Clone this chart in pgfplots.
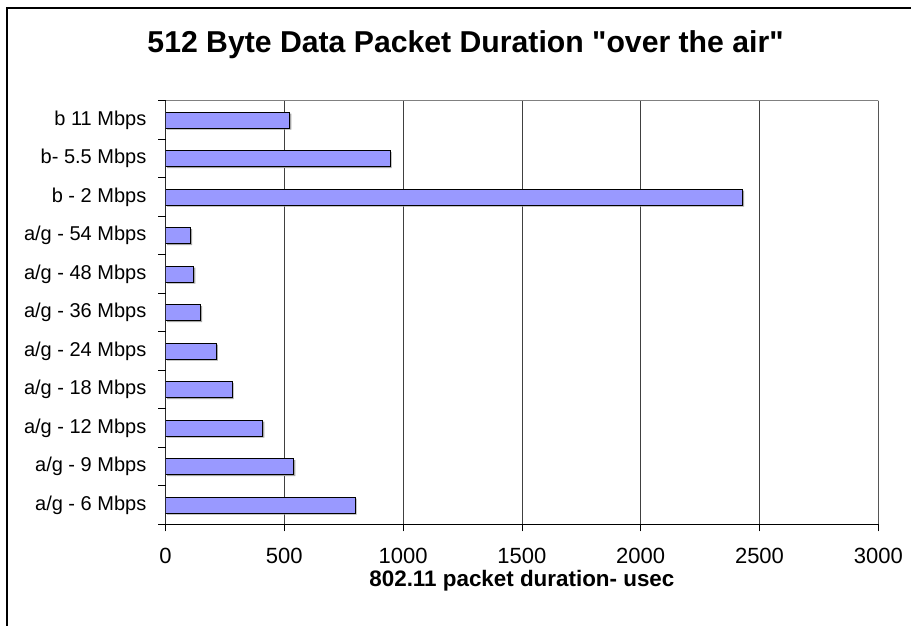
\documentclass[border=0pt]{standalone}
\usepackage{fontspec}
\setmainfont{Liberation Sans}[Ligatures=TeXOff]
\usepackage{pgfplots}
\pgfplotsset{compat=1.18}
\definecolor{barfill}{HTML}{9999FF}
\begin{document}
\begin{tikzpicture}
\useasboundingbox (0,0) rectangle (911bp,626bp);
\draw[line width=1.5bp] (7bp,0) -- (7bp,618bp) -- (911bp,618bp);
\begin{axis}[
  at={(165.5bp,101.7bp)}, anchor=south west,
  scale only axis, width=712.8bp, height=423.5bp,
  xmin=0, xmax=3000, ymin=-0.5, ymax=10.5,
  xbar, bar width=16bp,
  xtick={0,500,...,3000},
  ytick={-0.5,0.5,...,10.5},
  yticklabels={},
  extra y ticks={0,...,10},
  extra y tick labels={a/g - 6 Mbps, a/g - 9 Mbps, a/g - 12 Mbps, a/g - 18 Mbps, a/g - 24 Mbps, a/g - 36 Mbps, a/g - 48 Mbps, a/g - 54 Mbps, b - 2 Mbps, b- 5.5 Mbps, b 11 Mbps},
  extra y tick style={major tick length=0pt, tick style={draw=none}, yticklabel style={font=\fontsize{20bp}{24bp}\selectfont, inner sep=0pt, xshift=-19bp}},
  xtick pos=bottom, ytick pos=left,
  tick align=outside,
  major tick length=7bp,
  tick style={black, line width=0.8bp},
  xmajorgrids,
  major grid style={black!75, line width=0.8bp},
  axis line style={draw=none},
  /pgf/number format/assume math mode=true,
  /pgf/number format/1000 sep={},
  xticklabel style={font=\fontsize{22bp}{26bp}\selectfont, inner sep=0pt, yshift=-17bp},
  title={512 Byte Data Packet Duration "over the air"},
  title style={font=\bfseries\fontsize{30.2bp}{34bp}\selectfont, at={(axis description cs:0.421,1.1004)}, anchor=base, inner sep=0pt},
  xlabel={802.11 packet duration- usec},
  xlabel style={font=\bfseries\fontsize{22.4bp}{26bp}\selectfont, at={(axis description cs:0.5,-0.1457)}, anchor=base, inner sep=0pt},
]
\addplot[fill=barfill, draw=black, line width=0.9bp,
  preaction={fill=black!35, draw=none, transform canvas={xshift=1.5bp, yshift=-1.5bp}}] coordinates {
  (798,0) (540,1) (410,2) (280,3) (214,4) (148,5) (119,6) (106,7) (2429,8) (945,9) (523,10)
};
\draw[gray, line width=0.9bp] (rel axis cs:0,1) -- (rel axis cs:1,1) -- (rel axis cs:1,0);
\draw[black, line width=0.9bp] (rel axis cs:0,1) -- (rel axis cs:0,0) -- (rel axis cs:1,0);
\end{axis}
\end{tikzpicture}
\end{document}
